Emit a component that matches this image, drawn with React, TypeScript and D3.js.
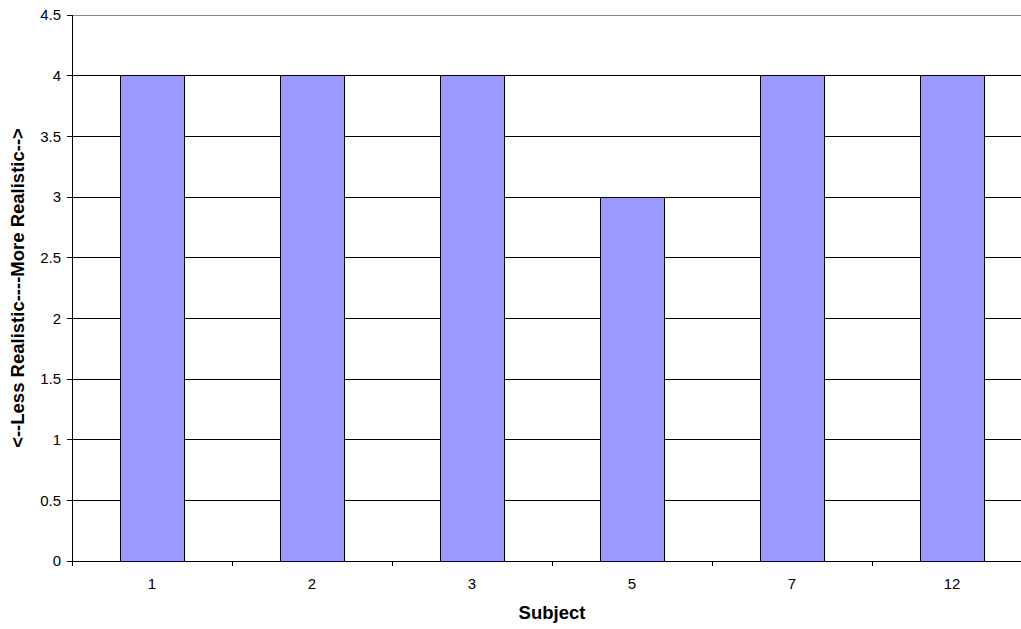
import React from "react";
import * as d3 from "d3";

const subjects: string[] = ["1", "2", "3", "5", "7", "12"];
const realism: number[] = [4, 4, 4, 3, 4, 4];
const yTicks: number[] = [0, 0.5, 1, 1.5, 2, 2.5, 3, 3.5, 4, 4.5];

const W = 1021;
const H = 629;
const left = 72;
const right = 1032;
const top = 15;
const bottom = 561;

export default function App() {
  const x = d3.scaleBand<string>().domain(subjects).range([left, right]).paddingInner(0.6).paddingOuter(0.3);
  const xb = d3.scaleBand<string>().domain(subjects).range([left, right]);
  const y = d3.scaleLinear().domain([0, 4.5]).range([bottom, top]);
  const font = "'Liberation Sans', Arial, sans-serif";
  return (
    <svg width={W} height={H} style={{ position: "absolute", left: 0, top: 0, background: "#fff" }} fontFamily={font}>
      <rect x={0} y={0} width={W} height={H} fill="#fff" />
      {yTicks.filter(t => t > 0).map(t => (
        <line key={"g" + t} x1={left} x2={right} y1={y(t)} y2={y(t)} stroke={t === 4.5 ? "#888" : "#000"} strokeWidth={1} shapeRendering="crispEdges" />
      ))}
      {subjects.map((s, i) => (
        <rect key={s} x={x(s)} y={y(realism[i])} width={x.bandwidth()} height={bottom - y(realism[i])} fill="#9999FF" stroke="#000" strokeWidth={1} shapeRendering="crispEdges" />
      ))}
      <line x1={left} x2={left} y1={top} y2={bottom} stroke="#000" shapeRendering="crispEdges" />
      <line x1={left} x2={right} y1={bottom} y2={bottom} stroke="#000" shapeRendering="crispEdges" />
      {yTicks.map(t => (
        <g key={"t" + t}>
          <line x1={left - 5} x2={left} y1={y(t)} y2={y(t)} stroke="#000" shapeRendering="crispEdges" />
          <text x={left - 11} y={y(t)} dy="0.35em" textAnchor="end" fontSize={15}>{t}</text>
        </g>
      ))}
      {subjects.map((s, i) => (
        <g key={"x" + s}>
          <line x1={(xb(s) as number)} x2={(xb(s) as number)} y1={bottom} y2={bottom + 5} stroke="#000" shapeRendering="crispEdges" />
          <text x={(xb(s) as number) + xb.bandwidth() / 2} y={589} textAnchor="middle" fontSize={15}>{s}</text>
        </g>
      ))}
      <text x={552} y={619} textAnchor="middle" fontSize={18.5} fontWeight="bold">Subject</text>
      <text transform={`translate(24, ${(top + bottom) / 2}) rotate(-90)`} textAnchor="middle" fontSize={18.5} fontWeight="bold">{"<--Less Realistic----More Realistic-->"}</text>
    </svg>
  );
}
